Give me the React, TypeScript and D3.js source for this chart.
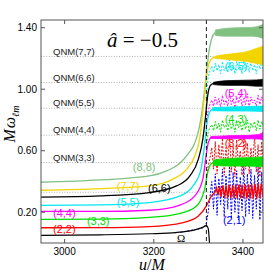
import React from 'react';
import * as d3 from 'd3';

const W = 266;
const H = 275;
const box = { left: 41, right: 263, top: 20, bottom: 243 };

const xTicks = [3000, 3200, 3400];
const yTicks = [0.2, 0.6, 1.0, 1.4];
const mergerU = 3318;

// QNM frequencies (dotted levels)
const qnmNames = ['QNM(7,7)', 'QNM(6,6)', 'QNM(5,5)', 'QNM(4,4)', 'QNM(3,3)', ''];
const qnmValues = [1.213, 1.044, 0.876, 0.701, 0.523, 0.33];

// (l,l) modes: [u/M, M*omega]
const mode88 = [[2947, 0.395], [3080, 0.41], [3190, 0.436], [3229, 0.469], [3259, 0.52], [3277, 0.58], [3292, 0.65], [3302, 0.75], [3311, 0.92], [3318, 1.1], [3324, 1.25], [3330, 1.33], [3338, 1.368]];
const mode77 = [[2947, 0.343], [3080, 0.354], [3190, 0.371], [3243, 0.415], [3274, 0.48], [3292, 0.566], [3303, 0.68], [3311, 0.88], [3318, 1.07], [3324, 1.17], [3331, 1.2], [3338, 1.208]];
const mode66 = [[2947, 0.298], [3080, 0.306], [3190, 0.328], [3251, 0.371], [3281, 0.436], [3300, 0.545], [3310, 0.675], [3316, 0.82], [3321, 0.96], [3327, 1.025], [3334, 1.038]];
const mode55 = [[2947, 0.245], [3080, 0.248], [3190, 0.263], [3259, 0.306], [3288, 0.371], [3306, 0.48], [3314, 0.64], [3319, 0.77], [3325, 0.85], [3332, 0.87]];
const mode44 = [[2947, 0.205], [3080, 0.205], [3190, 0.213], [3259, 0.247], [3292, 0.306], [3310, 0.415], [3317, 0.56], [3322, 0.65], [3328, 0.686]];
const mode33 = [[2947, 0.154], [3080, 0.155], [3190, 0.166], [3259, 0.193], [3296, 0.241], [3314, 0.35], [3321, 0.46], [3327, 0.51], [3334, 0.522]];
const mode22 = [[2947, 0.099], [3080, 0.1], [3190, 0.107], [3266, 0.133], [3300, 0.176], [3318, 0.241], [3328, 0.3], [3337, 0.33]];
const omegaOrb = [[2947, 0.05], [3080, 0.053], [3190, 0.06], [3250, 0.068], [3296, 0.089], [3312, 0.105], [3318, 0.113], [3322, 0.095], [3325, 0]];

// ringdown bands after merger: [u/M, low, high]
const band88 = [[3338, 1.35, 1.385], [3360, 1.345, 1.395], [3390, 1.345, 1.4], [3420, 1.345, 1.402], [3435, 1.34, 1.41], [3445, 1.33, 1.42]];
const band77 = [[3338, 1.2, 1.215], [3360, 1.195, 1.225], [3390, 1.185, 1.235], [3410, 1.18, 1.245], [3425, 1.17, 1.26], [3435, 1.165, 1.27], [3445, 1.16, 1.28]];
const band66 = [[3334, 1.03, 1.045], [3360, 1.025, 1.055], [3400, 1.025, 1.058], [3430, 1.02, 1.06], [3445, 1.02, 1.065]];
const band55 = [[3332, 0.86, 0.88], [3370, 0.858, 0.885], [3410, 0.858, 0.888], [3445, 0.855, 0.89]];
const band44 = [[3328, 0.68, 0.692], [3370, 0.678, 0.698], [3410, 0.678, 0.7], [3435, 0.676, 0.705], [3445, 0.67, 0.72]];
const band33 = [[3334, 0.505, 0.54], [3370, 0.5, 0.55], [3410, 0.5, 0.555], [3445, 0.495, 0.56]];

// (2,2) ringdown oscillation
const osc22U = [3337, 3341, 3344, 3348, 3351, 3355, 3359, 3362, 3366, 3369, 3373, 3377, 3380, 3384, 3387, 3391, 3395, 3398, 3402, 3405, 3409, 3413, 3416, 3420, 3423, 3427, 3431, 3434, 3438, 3441, 3445];
const osc22W = [0.33, 0.36, 0.31, 0.37, 0.3, 0.375, 0.295, 0.375, 0.295, 0.378, 0.292, 0.378, 0.292, 0.38, 0.29, 0.38, 0.29, 0.38, 0.29, 0.382, 0.288, 0.382, 0.288, 0.382, 0.288, 0.385, 0.288, 0.385, 0.29, 0.385, 0.3];

// (l,l-1) modes, noisy after merger
const noiseU = [3318, 3322, 3326, 3330, 3334, 3338, 3342, 3346, 3350, 3354, 3358, 3362, 3366, 3370, 3374, 3378, 3382, 3386, 3390, 3394, 3398, 3402, 3406, 3410, 3414, 3418, 3422, 3426, 3430, 3434, 3438, 3442, 3445];
const mode65 = [0.95, 1.08, 1.12, 1.15, 1.11, 1.17, 1.12, 1.16, 1.1, 1.18, 1.12, 1.15, 1.11, 1.19, 1.12, 1.16, 1.1, 1.18, 1.13, 1.15, 1.1, 1.19, 1.12, 1.17, 1.11, 1.18, 1.12, 1.16, 1.1, 1.19, 1.13, 1.17, 1.12];
const mode54 = [0.78, 0.86, 0.9, 0.93, 0.89, 0.95, 0.9, 0.94, 0.88, 0.96, 0.9, 0.93, 0.89, 0.97, 0.9, 0.94, 0.88, 0.95, 0.91, 0.96, 0.89, 0.94, 0.9, 0.97, 0.88, 0.95, 0.91, 0.93, 0.89, 0.96, 0.9, 0.95, 0.92];
const mode43 = [0.62, 0.72, 0.75, 0.77, 0.73, 0.79, 0.74, 0.78, 0.72, 0.8, 0.75, 0.77, 0.73, 0.79, 0.74, 0.78, 0.72, 0.8, 0.75, 0.78, 0.73, 0.79, 0.74, 0.8, 0.72, 0.78, 0.75, 0.79, 0.73, 0.8, 0.74, 0.79, 0.76];
const mode32 = [0.42, 0.5, 0.55, 0.62, 0.48, 0.66, 0.45, 0.64, 0.5, 0.68, 0.44, 0.62, 0.52, 0.7, 0.46, 0.63, 0.43, 0.67, 0.5, 0.6, 0.44, 0.69, 0.48, 0.65, 0.45, 0.62, 0.5, 0.7, 0.46, 0.64, 0.43, 0.66, 0.55];
const mode21 = [0.13, 0.2, 0.3, 0.4, 0.22, 0.45, 0.18, 0.42, 0.25, 0.48, 0.17, 0.44, 0.22, 0.5, 0.16, 0.46, 0.2, 0.47, 0.15, 0.43, 0.21, 0.5, 0.17, 0.45, 0.19, 0.48, 0.16, 0.44, 0.22, 0.5, 0.15, 0.46, 0.2];
const mode21Pre = [[3260, 0.07], [3296, 0.089], [3312, 0.1]];

const C = {
  g88: '#80c080', y77: '#f2d400', k66: '#000000', c55: '#00e8f0',
  m44: '#ff00ff', g33: '#00e000', r22: '#ff0000', b21: '#0000ff',
};

// curve labels anchored in data units
const labels = [
  { t: '(8,8)', u: 3153, w: 0.467, c: C.g88 },
  { t: '(7,7)', u: 3117, w: 0.343, c: C.y77 },
  { t: '(6,6)', u: 3187, w: 0.33, c: C.k66 },
  { t: '(5,5)', u: 3117, w: 0.239, c: C.c55 },
  { t: '(4,4)', u: 2974, w: 0.167, c: C.m44 },
  { t: '(3,3)', u: 3050, w: 0.115, c: C.g33 },
  { t: '(2,2)', u: 2974, w: 0.063, c: C.r22 },
  { t: '(2,1)', u: 3355, w: 0.122, c: C.b21 },
  { t: '(3,2)', u: 3359, w: 0.623, c: C.r22 },
  { t: '(4,3)', u: 3359, w: 0.779, c: C.g33 },
  { t: '(5,4)', u: 3359, w: 0.948, c: C.m44 },
  { t: '(6,5)', u: 3359, w: 1.124, c: C.c55 },
];

export default function App() {
  const x = d3.scaleLinear().domain([2947, 3445]).range([box.left, box.right]);
  const y = d3.scaleLinear().domain([0, 1.45]).range([box.bottom, box.top]);

  const smooth = d3.line<number[]>().x(d => x(d[0])).y(d => y(d[1])).curve(d3.curveMonotoneX);
  const zig = d3.line<number[]>().x(d => x(d[0])).y(d => y(d[1]));
  const band = d3.area<number[]>().x(d => x(d[0])).y0(d => y(d[1])).y1(d => y(d[2])).curve(d3.curveMonotoneX);

  const pairs = (vals: number[]) => noiseU.map((u, i) => [u, vals[i]]);
  const sans = 'Liberation Sans, Arial, Helvetica, sans-serif';
  const serif = 'Liberation Serif, Times New Roman, serif';

  const solid = [
    { d: mode88, b: band88, c: C.g88 },
    { d: mode77, b: band77, c: C.y77 },
    { d: mode55, b: band55, c: C.c55 },
    { d: mode44, b: band44, c: C.m44 },
    { d: mode33, b: band33, c: C.g33 },
    { d: mode66, b: band66, c: C.k66 },
  ];
  const dashed = [
    { v: mode21, c: C.b21, pre: mode21Pre },
    { v: mode32, c: C.r22, pre: [] as number[][] },
    { v: mode43, c: C.g33, pre: [] as number[][] },
    { v: mode54, c: C.m44, pre: [] as number[][] },
    { v: mode65, c: C.c55, pre: [] as number[][] },
  ];

  return (
    <svg width={W} height={H} style={{ position: 'absolute', left: 0, top: 0, background: '#fff' }}>
      <defs>
        <clipPath id="plot">
          <rect x={box.left} y={box.top} width={box.right - box.left} height={box.bottom - box.top} />
        </clipPath>
      </defs>

      {qnmValues.map((v, i) => (
        <g key={'q' + i}>
          <line x1={box.left} x2={box.right} y1={y(v)} y2={y(v)} stroke="#9a9a9a" strokeWidth={0.8} strokeDasharray="1,1.6" />
          {qnmNames[i] && (
            <text x={x(2974)} y={y(v) - 1.8} fontFamily={sans} fontSize={9.5} fill="#222">{qnmNames[i]}</text>
          )}
        </g>
      ))}

      <g clipPath="url(#plot)">
        {dashed.map((s, i) => (
          <path key={'d' + i} d={zig([...s.pre, ...pairs(s.v)]) || ''} fill="none" stroke={s.c} strokeWidth={1} strokeDasharray="2,1.5" />
        ))}
        <path d={smooth(mode22) || ''} fill="none" stroke={C.r22} strokeWidth={1.3} />
        <path d={zig(osc22U.map((u, i) => [u, osc22W[i]])) || ''} fill="none" stroke={C.r22} strokeWidth={1.3} />
        {solid.map((s, i) => (
          <g key={'s' + i}>
            <path d={smooth(s.d) || ''} fill="none" stroke={s.c} strokeWidth={1.3} />
            <path d={band(s.b) || ''} fill={s.c} stroke={s.c} strokeWidth={0.8} />
          </g>
        ))}
        <path d={smooth(omegaOrb) || ''} fill="none" stroke="#000" strokeWidth={1.2} />
        <line x1={x(mergerU)} x2={x(mergerU)} y1={box.top} y2={box.bottom} stroke="#000" strokeWidth={0.9} strokeDasharray="4,3" />
      </g>

      {labels.map((l, i) => (
        <text key={'l' + i} x={x(l.u)} y={y(l.w)} fontFamily={sans} fontSize={11} fill={l.c}>{l.t}</text>
      ))}
      <text x={x(3252)} y={y(0.005)} fontFamily={serif} fontSize={11} fill="#000">Ω</text>

      <text x={107} y={47} fontFamily={serif} fontSize={21} fill="#000">
        <tspan fontStyle="italic">â</tspan> = −0.5
      </text>

      <rect x={box.left} y={box.top} width={box.right - box.left} height={box.bottom - box.top} fill="none" stroke="#555" strokeWidth={1} />
      {xTicks.map(t => (
        <g key={'x' + t}>
          <line x1={x(t)} x2={x(t)} y1={box.bottom} y2={box.bottom - 4} stroke="#555" />
          <line x1={x(t)} x2={x(t)} y1={box.top} y2={box.top + 4} stroke="#555" />
          <text x={x(t)} y={255} textAnchor="middle" fontFamily={sans} fontSize={10} fill="#000">{t}</text>
        </g>
      ))}
      {yTicks.map(t => (
        <g key={'y' + t}>
          <line x1={box.left} x2={box.left + 4} y1={y(t)} y2={y(t)} stroke="#555" />
          <line x1={box.right} x2={box.right - 4} y1={y(t)} y2={y(t)} stroke="#555" />
          <text x={37} y={y(t) + 3.6} textAnchor="end" fontFamily={sans} fontSize={10} fill="#000">{t.toFixed(2)}</text>
        </g>
      ))}

      <text x={152} y={270} textAnchor="middle" fontFamily={serif} fontSize={16} fill="#000">
        <tspan fontStyle="italic">u</tspan>/<tspan fontStyle="italic">M</tspan>
      </text>
      <text transform="translate(15,124) rotate(-90)" textAnchor="middle" fontFamily={serif} fontSize={16} fill="#000">
        <tspan fontStyle="italic">M</tspan>
        <tspan fontStyle="italic" dx={1}>ω</tspan>
        <tspan fontStyle="italic" fontSize={10} dy={4}>ℓm</tspan>
      </text>
    </svg>
  );
}
